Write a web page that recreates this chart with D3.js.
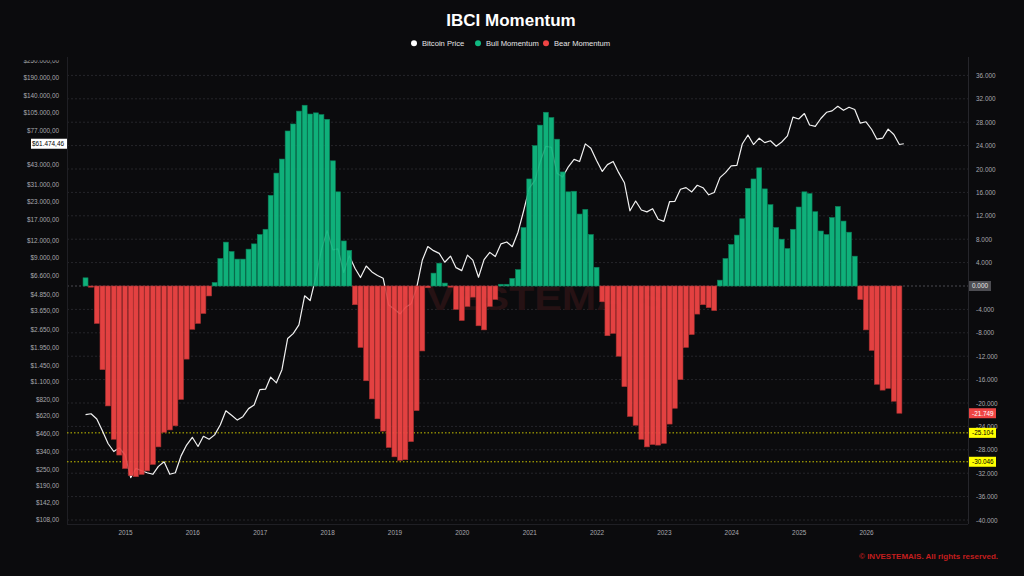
<!DOCTYPE html>
<html><head><meta charset="utf-8">
<script src="https://cdn.jsdelivr.net/npm/d3@7/dist/d3.min.js"></script>
<style>
html,body{margin:0;padding:0;background:#0b0b0d;}
svg{display:block;font-family:"Liberation Sans",Arial,sans-serif;}
</style></head><body>
<svg id="c" width="1024" height="576"></svg>
<script>
// ---------- DATA ----------
const startMonth = "2014-06"; // first monthly bar
const momentum = [
 1.4,-0.2,-6.4,-14.3,-20.5,-26.2,-28.9,-31.2,-32.4,-32.6,-32.2,-31.6,-30.5,-27.5,-25.0,-24.6,-23.9,-19.4,-12.5,-7.4,-6.4,-4.7,-1.7,
 0.6,4.7,7.5,5.9,4.6,4.6,6.3,7.2,8.8,9.7,15.5,19.3,21.7,26.5,27.7,29.9,30.9,29.4,29.6,29.3,28.5,21.4,16.1,7.7,6.1,
 -3.2,-10.5,-16.2,-19.3,-22.7,-24.8,-27.6,-29.2,-29.8,-29.7,-26.6,-21.3,-11.1,-0.3,
 2.2,3.9,0.5,-0.2,-4.0,-5.9,-3.5,-1.9,-6.8,-7.5,-3.5,-2.3,
 0.3,0.3,1.3,2.8,10.0,18.3,24.0,27.5,29.7,28.8,25.1,19.5,16.1,16.2,12.3,13.1,8.8,3.2,
 -2.7,-8.5,-8.1,-12.0,-17.2,-22.3,-23.8,-26.2,-27.5,-27.1,-27.2,-26.9,-23.6,-20.9,-16.0,-10.5,-8.3,-4.8,-3.2,-3.7,-4.2,
 1.0,4.7,7.1,8.7,11.5,16.7,18.3,20.2,16.6,13.9,10.0,8.0,6.4,9.7,13.5,16.1,15.8,12.7,9.4,8.8,11.7,13.6,11.1,9.2,5.1,
 -2.3,-7.5,-11.0,-16.8,-17.8,-17.5,-19.7,-21.749
];
const price = [
 630,640,586,478,387,338,360,320,217,254,244,236,230,263,284,230,236,314,377,430,368,437,416,448,531,673,624,575,609,698,742,963,
 970,1190,1080,1348,2286,2480,2875,4703,4338,6468,10233,14156,10221,10397,6973,9240,7494,6404,7780,7037,6625,6318,4017,3742,
 3457,3854,4105,5350,8574,10817,10085,9630,8293,9199,7569,7193,9350,8599,6438,8658,9800,9137,11323,11681,10784,13781,19626,29001,
 33114,45137,58918,57750,37332,35040,41626,47166,45500,61318,57005,46306,38483,43193,45538,37714,31792,19785,23336,20050,19431,20495,
 17168,16547,23139,23147,28478,29268,27219,30477,29230,25931,26968,34667,37713,42265,42582,61198,71333,60636,67491,62678,64620,58969,
 63329,70215,96449,93429,102405,84373,82548,94207,104638,107135,115758,108236,114056,109556,87000,89100,78200,66400,67500,78700,71900,60700
];
const currentPrice = 61474.46;
const currentDate = "2026-07-25";
const priceTicks = [108,142,190,250,340,460,620,820,1100,1450,1950,2650,3650,4850,6600,9000,12000,17000,23000,31000,43000,77000,105000,140000,190000,250000];
const momTicks = [36,32,28,24,20,16,12,8,4,0,-4,-8,-12,-16,-20,-24,-28,-32,-36,-40];
const yearTicks = ["2015","2016","2017","2018","2019","2020","2021","2022","2023","2024","2025","2026"];
const refLevels = [-25.104, -30.046];
const lastMomentum = -21.749;
const legendItems = [["Bitcoin Price","#ffffff"],["Bull Momentum","#10b981"],["Bear Momentum","#ef4444"]];

// ---------- SETUP ----------
const svg = d3.select("#c");
const W=1024,H=576;
const L=67,R=968,T=57,B=524;
const loc = d3.formatLocale({decimal:",",thousands:".",grouping:[3],currency:["$",""],minus:"-"});
const fmtPrice = loc.format("$,.2f");
const fmtMom = d3.formatLocale({decimal:".",thousands:",",grouping:[3],currency:["",""],minus:"-"}).format(".3f");

const parseM = d3.utcParse("%Y-%m");
const dates = d3.utcMonth.range(parseM(startMonth), d3.utcMonth.offset(parseM(startMonth), momentum.length));
const t0 = Date.UTC(2015,0,1), t1 = Date.UTC(2026,0,1);
const k = (t1-t0)/(866-125);
const x = d3.scaleUtc().domain([new Date(t0-(125-L)*k), new Date(t0+(R-125)*k)]).range([L,R]);
const yL = d3.scaleLog().domain([108,190000]).range([519,77]);
const yR = d3.scaleLinear().domain([-40,36]).range([520,75.4]);

svg.append("rect").attr("width",W).attr("height",H).attr("fill","#0b0b0d");

// clip
const defs = svg.append("defs");
defs.append("clipPath").attr("id","plot").append("rect").attr("x",L).attr("y",T).attr("width",R-L).attr("height",B-T);
defs.append("clipPath").attr("id","laxis").append("rect").attr("x",0).attr("y",60.3).attr("width",L).attr("height",B-58);

// grid
svg.append("g").selectAll("line").data(momTicks).join("line")
  .attr("x1",L).attr("x2",R).attr("y1",d=>yR(d)).attr("y2",d=>yR(d))
  .attr("stroke",d=>d===0?"#4a4a50":"#26262b").attr("stroke-width",1).attr("stroke-dasharray","2,2");

// frame
svg.append("line").attr("x1",L+0.5).attr("x2",L+0.5).attr("y1",T).attr("y2",B).attr("stroke","#1f1f24");
svg.append("line").attr("x1",R+0.5).attr("x2",R+0.5).attr("y1",T).attr("y2",B).attr("stroke","#26262b");
svg.append("line").attr("x1",L).attr("x2",R).attr("y1",B+0.5).attr("y2",B+0.5).attr("stroke","#1f1f24");

// watermark
svg.append("text").attr("x",525).attr("y",310).attr("text-anchor","middle")
  .attr("font-size",34).attr("font-weight","bold").attr("fill","#261214")
  .attr("textLength",280).attr("lengthAdjust","spacingAndGlyphs").text("INVESTEMAIS");

// reference lines
svg.append("g").selectAll("line").data(refLevels).join("line")
  .attr("x1",L).attr("x2",R).attr("y1",d=>yR(d)).attr("y2",d=>yR(d))
  .attr("stroke","#c9c400").attr("stroke-width",1).attr("stroke-dasharray","1.5,2");

const plot = svg.append("g").attr("clip-path","url(#plot)");

// price line (behind bars)
const pts = dates.map((d,i)=>[d,price[i]]);
pts.push([d3.utcParse("%Y-%m-%d")(currentDate), currentPrice]);
plot.append("path").datum(pts)
  .attr("d",d3.line().x(d=>x(d[0])).y(d=>yL(d[1])))
  .attr("fill","none").attr("stroke","#f2f2f2").attr("stroke-width",1.2).attr("stroke-linejoin","round");

// bars
const bw = 5.0;
plot.append("g").selectAll("rect").data(momentum).join("rect")
  .attr("x",(d,i)=>x(dates[i])-bw/2)
  .attr("y",d=>d>=0?yR(d):yR(0))
  .attr("width",bw)
  .attr("height",d=>Math.abs(yR(d)-yR(0)))
  .attr("fill",d=>d>=0?"#10b981":"#ef4444")
  .attr("fill-opacity",0.95)
  .attr("stroke",d=>d>=0?"#0a7f59":"#a83030")
  .attr("stroke-width",0.6);

// left axis (wrapper carries the clip, inner group carries the transform)
const glw = svg.append("g").attr("clip-path","url(#laxis)");
const gl = glw.append("g").attr("transform",`translate(${L-5},0)`)
  .call(d3.axisLeft(yL).tickValues(priceTicks).tickFormat(fmtPrice).tickSize(0));
gl.select(".domain").remove();
gl.selectAll("text").attr("fill","#a8a8ae").attr("font-size",6.4).attr("font-family","Liberation Sans, Arial, sans-serif");

// right axis (0 is shown by its badge)
const gr = svg.append("g").attr("transform",`translate(${R+5},0)`)
  .call(d3.axisRight(yR).tickValues(momTicks.filter(v=>v!==0)).tickFormat(fmtMom).tickSize(0));
gr.select(".domain").remove();
gr.selectAll("text").attr("fill","#a8a8ae").attr("font-size",6.4).attr("font-family","Liberation Sans, Arial, sans-serif");

// bottom axis
const gb = svg.append("g").attr("transform",`translate(0,${B+3})`)
  .call(d3.axisBottom(x).tickValues(yearTicks.map(s=>d3.utcParse("%Y")(s))).tickFormat(d3.utcFormat("%Y")).tickSize(0));
gb.select(".domain").remove();
gb.selectAll("text").attr("fill","#a8a8ae").attr("font-size",6.4).attr("font-family","Liberation Sans, Arial, sans-serif");

// right badges
function badge(v,bg,fg,w){
  const g = svg.append("g");
  g.append("rect").attr("x",R+1).attr("y",yR(v)-5).attr("width",w).attr("height",10).attr("fill",bg);
  g.append("text").attr("x",R+4).attr("y",yR(v)+2.3).attr("font-size",6.4).attr("fill",fg).text(fmtMom(v));
}
badge(0,"#4d4d52","#e6e6e6",22);
badge(lastMomentum,"#ef4444","#ffffff",27);
refLevels.forEach(v=>badge(v,"#ffff00","#000000",27));

// left current price badge
svg.append("rect").attr("x",31).attr("y",yL(currentPrice)-5).attr("width",L-31).attr("height",10).attr("fill","#ffffff");
svg.append("text").attr("x",L-3).attr("y",yL(currentPrice)+2.3).attr("text-anchor","end")
  .attr("font-size",6.4).attr("fill","#000").text(fmtPrice(currentPrice));

// title
svg.append("text").attr("x",511).attr("y",26).attr("text-anchor","middle")
  .attr("font-size",17).attr("font-weight","bold").attr("fill","#ffffff").text("IBCI Momentum");

// legend
const lg = svg.append("g").attr("font-size",7.6).attr("fill","#e6e6e6");
const lx = [414,478,546];
legendItems.forEach((d,i)=>{
  lg.append("circle").attr("cx",lx[i]).attr("cy",43.3).attr("r",3).attr("fill",d[1]);
  lg.append("text").attr("x",lx[i]+8).attr("y",46).attr("fill","#e6e6e6").text(d[0]);
});

// footer
svg.append("text").attr("x",998).attr("y",559).attr("text-anchor","end")
  .attr("font-size",8).attr("font-weight","bold").attr("fill","#c41e1e").text("© INVESTEMAIS. All rights reserved.");
</script>
</body></html>
